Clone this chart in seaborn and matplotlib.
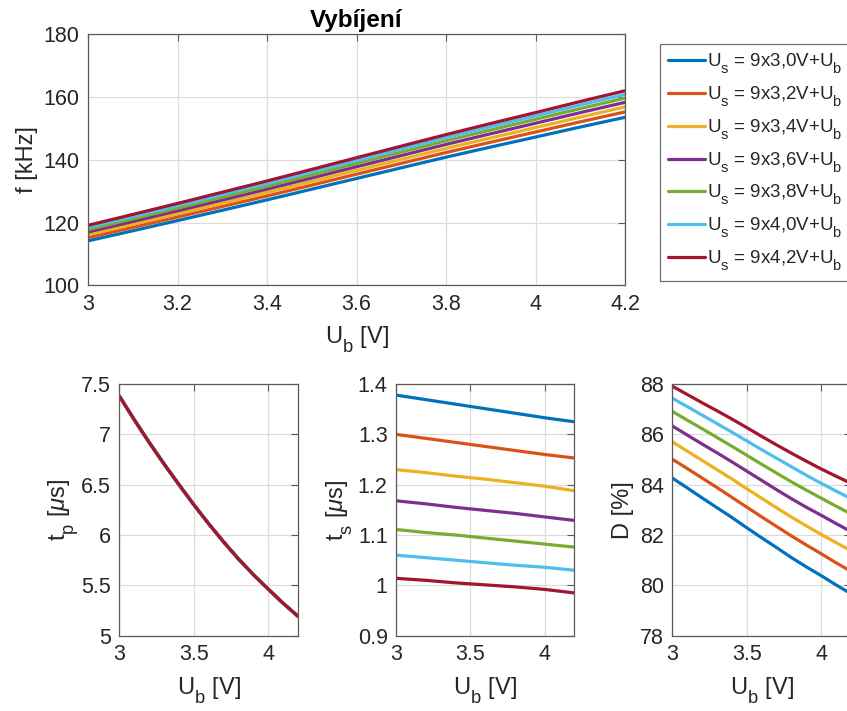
import matplotlib
matplotlib.use("Agg")
import matplotlib.pyplot as plt
from matplotlib.ticker import FuncFormatter, MultipleLocator
import pandas as pd
import seaborn as sns

# Battery voltage sweep
ub = [3.0, 3.1, 3.2, 3.3, 3.4, 3.5, 3.6, 3.7, 3.8, 3.9, 4.0, 4.1, 4.2]

# Supply cell voltage of each series (U_s = 9 x cell + U_b)
cell_voltages = ["3,0", "3,2", "3,4", "3,6", "3,8", "4,0", "4,2"]

# Switching frequency f [kHz]
freq_khz = [
    [114.18, 117.39, 120.64, 123.92, 127.23, 130.63, 134.03, 137.43, 140.81, 144.04, 147.21, 150.40, 153.49],
    [115.21, 118.47, 121.77, 125.11, 128.47, 131.93, 135.39, 138.85, 142.29, 145.58, 148.81, 152.06, 155.21],
    [116.14, 119.45, 122.79, 126.17, 129.58, 133.08, 136.59, 140.11, 143.60, 146.94, 150.22, 153.55, 156.79],
    [116.99, 120.34, 123.73, 127.17, 130.63, 134.19, 137.76, 141.32, 144.86, 148.27, 151.61, 154.98, 158.25],
    [117.77, 121.17, 124.61, 128.08, 131.58, 135.19, 138.81, 142.43, 146.03, 149.48, 152.86, 156.27, 159.59],
    [118.48, 121.91, 125.39, 128.91, 132.45, 136.10, 139.76, 143.42, 147.06, 150.53, 153.94, 157.41, 160.77],
    [119.13, 122.59, 126.10, 129.66, 133.24, 136.93, 140.63, 144.32, 147.99, 151.53, 154.99, 158.52, 161.94],
]

# Charging time t_p [us] (same for all series)
tp_us = [7.38, 7.145, 6.92, 6.705, 6.50, 6.30, 6.11, 5.93, 5.76, 5.605, 5.46, 5.32, 5.19]

# Discharging time t_s [us]
ts_us = [
    [1.378, 1.3735, 1.369, 1.3645, 1.360, 1.3555, 1.351, 1.3465, 1.342, 1.3375, 1.333, 1.329, 1.325],
    [1.300, 1.296, 1.292, 1.288, 1.284, 1.280, 1.276, 1.272, 1.268, 1.264, 1.260, 1.2565, 1.253],
    [1.230, 1.227, 1.224, 1.2205, 1.217, 1.214, 1.211, 1.2075, 1.204, 1.2005, 1.197, 1.1925, 1.188],
    [1.168, 1.165, 1.162, 1.1585, 1.155, 1.152, 1.149, 1.146, 1.143, 1.1395, 1.136, 1.1325, 1.129],
    [1.111, 1.108, 1.105, 1.1025, 1.100, 1.097, 1.094, 1.091, 1.088, 1.085, 1.082, 1.079, 1.076],
    [1.060, 1.0575, 1.055, 1.0525, 1.050, 1.0475, 1.045, 1.0425, 1.040, 1.038, 1.036, 1.033, 1.030],
    [1.014, 1.012, 1.010, 1.0075, 1.005, 1.003, 1.001, 0.999, 0.997, 0.9945, 0.992, 0.9885, 0.985],
]

# Duty cycle D [%]
duty_pct = [
    [84.27, 83.88, 83.48, 83.09, 82.70, 82.29, 81.89, 81.50, 81.10, 80.73, 80.38, 80.01, 79.66],
    [85.02, 84.65, 84.27, 83.89, 83.50, 83.11, 82.72, 82.34, 81.96, 81.60, 81.25, 80.89, 80.55],
    [85.71, 85.34, 84.97, 84.60, 84.23, 83.84, 83.46, 83.08, 82.71, 82.36, 82.02, 81.69, 81.37],
    [86.34, 85.98, 85.62, 85.27, 84.91, 84.54, 84.17, 83.80, 83.44, 83.10, 82.78, 82.45, 82.13],
    [86.92, 86.57, 86.23, 85.88, 85.53, 85.17, 84.81, 84.46, 84.11, 83.78, 83.46, 83.14, 82.83],
    [87.44, 87.11, 86.77, 86.43, 86.09, 85.74, 85.39, 85.05, 84.71, 84.37, 84.05, 83.74, 83.44],
    [87.92, 87.59, 87.26, 86.94, 86.61, 86.27, 85.92, 85.58, 85.25, 84.93, 84.62, 84.33, 84.05],
]

colors = ["#0072BD", "#D95319", "#EDB120", "#7E2F8E",
          "#77AC30", "#4DBEEE", "#A2142F"]

series = [f"9x{c}V" for c in cell_voltages]
rows = []
for name, f_row, ts_row, d_row in zip(series, freq_khz, ts_us, duty_pct):
    for u, f, tp, ts, d in zip(ub, f_row, tp_us, ts_row, d_row):
        rows.append({"series": name, "ub": u, "f": f, "tp": tp, "ts": ts, "D": d})
df = pd.DataFrame(rows)
palette = dict(zip(series, colors))

sns.set_style("white")
plt.rcParams["font.family"] = ["Liberation Sans", "DejaVu Sans"]
plt.rcParams["mathtext.fontset"] = "custom"
plt.rcParams["mathtext.rm"] = "Liberation Sans"
plt.rcParams["mathtext.it"] = "Liberation Sans:italic"
plt.rcParams["mathtext.bf"] = "Liberation Sans:bold"

# Larger, lower subscripts (TeX-interpreter look)
try:
    import matplotlib._mathtext as _mt
    _mt.SHRINK_FACTOR = 0.78
    _mt.FontConstantsBase.sub1 = 0.75
except Exception:
    pass

TXT = "#262626"
TICK_FS = 15.5
LABEL_FS = 17

fig = plt.figure(figsize=(8.47, 7.11), dpi=100)
ax_f = fig.add_axes([0.1039, 0.5985, 0.634, 0.3537])
ax_tp = fig.add_axes([0.1409, 0.1059, 0.2113, 0.354])
ax_ts = fig.add_axes([0.4675, 0.1059, 0.2105, 0.354])
ax_d = fig.add_axes([0.7934, 0.1059, 0.2117, 0.354])

fmt = FuncFormatter(lambda v, _: f"{v:g}")


def style(ax, ylim, ystep, xstep):
    ax.set_xlim(3, 4.2)
    ax.set_ylim(*ylim)
    ax.xaxis.set_major_locator(MultipleLocator(xstep))
    ax.yaxis.set_major_locator(MultipleLocator(ystep))
    ax.xaxis.set_major_formatter(fmt)
    ax.yaxis.set_major_formatter(fmt)
    ax.grid(True, color="#dcdcdc", lw=0.9)
    ax.set_axisbelow(True)
    for sp in ax.spines.values():
        sp.set_visible(True)
        sp.set_color("#5a5a5a")
        sp.set_linewidth(0.9)
    ax.tick_params(direction="in", length=5, width=0.8, colors="#5a5a5a",
                   labelcolor=TXT, labelsize=TICK_FS, top=True, right=True,
                   pad=6)
    ax.set_xlabel(r"$\mathrm{U_b}$ [V]", fontsize=LABEL_FS, color=TXT, labelpad=7)


common = dict(data=df, x="ub", hue="series", palette=palette,
              hue_order=series, linewidth=2.3, legend=False, sort=False)

sns.lineplot(y="f", ax=ax_f, **common)
style(ax_f, (100, 180), 20, 0.2)
ax_f.set_ylabel("f [kHz]", fontsize=LABEL_FS, color=TXT, labelpad=4)
ax_f.set_title("Vybíjení", fontsize=17.5, fontweight="bold", color="black", pad=5)

sns.lineplot(y="tp", ax=ax_tp, **common)
style(ax_tp, (5, 7.5), 0.5, 0.5)
ax_tp.set_ylabel(r"$\mathrm{t_p}$ [$\mu$s]", fontsize=LABEL_FS, color=TXT, labelpad=0)

sns.lineplot(y="ts", ax=ax_ts, **common)
style(ax_ts, (0.9, 1.4), 0.1, 0.5)
ax_ts.set_ylabel(r"$\mathrm{t_s}$ [$\mu$s]", fontsize=LABEL_FS, color=TXT, labelpad=2)

sns.lineplot(y="D", ax=ax_d, **common)
style(ax_d, (78, 88), 2, 0.5)
ax_d.set_ylabel("D [%]", fontsize=LABEL_FS, color=TXT, labelpad=4)

handles = ax_f.get_lines()[:len(series)]
labels = [r"$\mathrm{U_s}$ = " + s + r"+$\mathrm{U_b}$" for s in series]
leg = fig.legend(handles, labels, loc="upper left",
                 bbox_to_anchor=(660 / 847, 1 - 44 / 711),
                 fontsize=13.5, frameon=True, fancybox=False, framealpha=1,
                 edgecolor="#6e6e6e", handlelength=2.0, handletextpad=0.1,
                 labelspacing=0.44, borderpad=0.42, borderaxespad=0)
leg.get_frame().set_linewidth(0.9)
for t in leg.get_texts():
    t.set_color(TXT)

fig.savefig("out.png", dpi=100)
